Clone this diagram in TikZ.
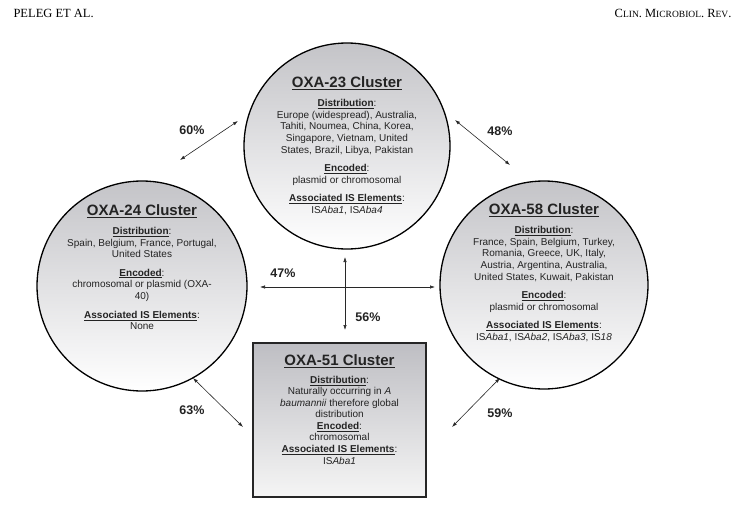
\documentclass[tikz,border=0pt]{standalone}
\usepackage{fontspec}
\setmainfont{Liberation Serif}
\setsansfont{Liberation Sans}
\usepackage{tikz}
\usetikzlibrary{arrows.meta,positioning}

\definecolor{shadetop}{RGB}{196,196,200}
\definecolor{boxtop}{RGB}{190,190,195}
\definecolor{txtgray}{RGB}{35,35,35}
\definecolor{arrowgray}{RGB}{40,40,40}

\newcommand{\clhead}[1]{{\fontsize{15}{15}\selectfont\bfseries\underline{#1}}}
\newcommand{\sect}[1]{\textbf{\underline{#1}}}

\begin{document}
\begin{tikzpicture}[x=1pt,y=-1pt,
    cluster/.style={circle, draw=black, line width=1.3pt, top color=shadetop, bottom color=white, inner sep=0pt},
    clusterbox/.style={rectangle, draw=black!85, line width=2.2pt, top color=boxtop, bottom color=white!96!black, inner sep=0pt},
    clustertext/.style={align=center, inner sep=0pt, text=txtgray, font=\sffamily\fontsize{10}{11.7}\selectfont},
    link/.style={{Latex[length=5pt,width=3.4pt]}-{Latex[length=5pt,width=3.4pt]}, line width=0.6pt, draw=arrowgray},
    pct/.style={inner sep=0pt, text=txtgray, font=\sffamily\bfseries\fontsize{12.5}{14}\selectfont}]
  \useasboundingbox[fill=white] (0,0) rectangle (745,506);

  % running head
  \node[anchor=base west, font=\fontsize{12.5}{14}\selectfont] (headl) at (10,17) {PELEG ET AL.};
  \node[anchor=base east, font=\fontsize{12.5}{14}\selectfont] (headr) at (735,17)
    {C{\fontsize{9.5}{10}\selectfont LIN}. M{\fontsize{9.5}{10}\selectfont ICROBIOL}. R{\fontsize{9.5}{10}\selectfont EV}.};

  % clusters
  \node[cluster, minimum size=206pt] (c23) at (347,146) {};
  \node[cluster, minimum size=210pt] (c24) at (142,286) {};
  \node[cluster, minimum size=208pt] (c58) at (544,285) {};
  \node[clusterbox, minimum width=173pt, minimum height=154pt] (c51) at (339.5,420) {};

  \node[clustertext, below=34pt of c23.north] (t23) {%
    \clhead{OXA-23 Cluster}\\[7.4pt]
    \sect{Distribution}:\\
    Europe (widespread), Australia,\\
    Tahiti, Noumea, China, Korea,\\
    Singapore, Vietnam, United\\
    States, Brazil, Libya, Pakistan\\[6.5pt]
    \sect{Encoded}:\\
    plasmid or chromosomal\\[7pt]
    \sect{Associated IS Elements}:\\
    IS\textit{Aba1}, IS\textit{Aba4}};

  \node[clustertext, below=24pt of c24.north] (t24) {%
    \clhead{OXA-24 Cluster}\\[7.4pt]
    \sect{Distribution}:\\
    Spain, Belgium, France, Portugal,\\
    United States\\[6.5pt]
    \sect{Encoded}:\\
    chromosomal or plasmid (OXA-\\
    40)\\[7pt]
    \sect{Associated IS Elements}:\\
    None};

  \node[clustertext, below=23pt of c58.north] (t58) {%
    \clhead{OXA-58 Cluster}\\[7.4pt]
    \sect{Distribution}:\\
    France, Spain, Belgium, Turkey,\\
    Romania, Greece, UK, Italy,\\
    Austria, Argentina, Australia,\\
    United States, Kuwait, Pakistan\\[6.5pt]
    \sect{Encoded}:\\
    plasmid or chromosomal\\[7pt]
    \sect{Associated IS Elements}:\\
    IS\textit{Aba1}, IS\textit{Aba2}, IS\textit{Aba3}, IS\textit{18}};

  \node[clustertext, font=\sffamily\fontsize{10}{11.2}\selectfont, below=12.5pt of c51.north] (t51) {%
    \clhead{OXA-51 Cluster}\\[7pt]
    \sect{Distribution}:\\
    Naturally occurring in \textit{A}\\
    \textit{baumannii} therefore global\\
    distribution\\[1pt]
    \sect{Encoded}:\\
    chromosomal\\[1pt]
    \sect{Associated IS Elements}:\\
    IS\textit{Aba1}};

  % links between clusters
  \coordinate (e60a) at (180,160);  \coordinate (e60b) at (238,121);
  \coordinate (e48a) at (455,120);  \coordinate (e48b) at (510,165);
  \coordinate (e47a) at (260,287);  \coordinate (e47b) at (435,287);
  \coordinate (e56a) at (345,257);  \coordinate (e56b) at (345,330);
  \coordinate (e63a) at (193,378);  \coordinate (e63b) at (243,427);
  \coordinate (e59a) at (500,378);  \coordinate (e59b) at (452,427);

  \draw[link] (e60a) -- (e60b);
  \draw[link] (e48a) -- (e48b);
  \draw[link] (e47a) -- (e47b);
  \draw[link] (e56a) -- (e56b);
  \draw[link] (e63a) -- (e63b);
  \draw[link] (e59a) -- (e59b);

  \node[pct] (p60) at (192,130) {60\%};
  \node[pct] (p48) at (500,131) {48\%};
  \node[pct] (p47) at (283,273) {47\%};
  \node[pct] (p56) at (368,317) {56\%};
  \node[pct] (p63) at (192,410) {63\%};
  \node[pct] (p59) at (500,413) {59\%};
\end{tikzpicture}
\end{document}
